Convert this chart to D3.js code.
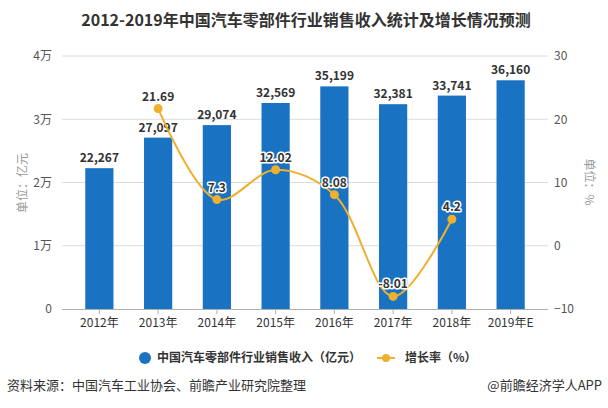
<!DOCTYPE html>
<html>
<head>
<meta charset="utf-8">
<script src="https://cdn.jsdelivr.net/npm/d3@7"></script>
<style>
body { margin: 0; background: #fff; }
text { font-family: "Noto Sans CJK SC", "Noto Sans", sans-serif; }
</style>
</head>
<body>
<svg></svg>
<script>
// data
var years = ['2012年', '2013年', '2014年', '2015年', '2016年', '2017年', '2018年', '2019年E'];
var revenue = [22267, 27097, 29074, 32569, 35199, 32381, 33741, 36160];
var growthYears = ['2013年', '2014年', '2015年', '2016年', '2017年', '2018年'];
var growth = [21.69, 7.3, 12.02, 8.08, -8.01, 4.2];
var leftTicks = [0, 10000, 20000, 30000, 40000];
var leftTickLabels = ['0', '1万', '2万', '3万', '4万'];
var rightTicks = [-10, 0, 10, 20, 30];

var svgWidth = 608, svgHeight = 408;
var blue = '#1a73c2', orange = '#efb02e';

var svg = d3.select('svg')
.attr('width', svgWidth)
.attr('height', svgHeight);

var xScale = d3.scaleBand()
.domain(years)
.range([70, 540])
.paddingInner(0.52)
.paddingOuter(0.26);

var yLeft = d3.scaleLinear()
.domain([0, 40000])
.range([309, 56]);

var yRight = d3.scaleLinear()
.domain([-10, 30])
.range([309, 56]);

// title
svg.append('text')
.attr('x', 306).attr('y', 26)
.attr('text-anchor', 'middle')
.attr('font-size', 16).attr('font-weight', 'bold')
.attr('fill', '#333')
.text('2012-2019年中国汽车零部件行业销售收入统计及增长情况预测');

// gridlines
svg.append('g')
.selectAll('line')
.data(leftTicks.slice(1))
.enter()
.append('line')
.attr('x1', 62).attr('x2', 548)
.attr('y1', function(d){ return yLeft(d); })
.attr('y2', function(d){ return yLeft(d); })
.attr('stroke', '#dcdcdc');

// left axis
var y_axis = d3.axisLeft(yLeft)
.tickValues(leftTicks)
.tickFormat(function(d, i){ return leftTickLabels[i]; })
.tickSize(0)
.tickPadding(10);

var gl = svg.append('g')
.attr('transform', 'translate(62, 0)')
.call(y_axis);
gl.select('.domain').remove();
gl.selectAll('text').attr('font-size', 12).attr('fill', '#555')
.style('font-family', '"Noto Sans CJK SC", sans-serif');

// right axis
var y_axis_r = d3.axisRight(yRight)
.tickValues(rightTicks)
.tickSize(0)
.tickPadding(6);

var gr = svg.append('g')
.attr('transform', 'translate(548, 0)')
.call(y_axis_r);
gr.select('.domain').remove();
gr.selectAll('text').attr('font-size', 12).attr('fill', '#555')
.style('font-family', '"Noto Sans CJK SC", sans-serif');

// axis titles
svg.append('text')
.attr('transform', 'translate(27, 183) rotate(-90)')
.attr('text-anchor', 'middle')
.attr('font-size', 12).attr('fill', '#999')
.text('单位：亿元');

svg.append('text')
.attr('transform', 'translate(585, 182) rotate(90)')
.attr('text-anchor', 'middle')
.attr('font-size', 12).attr('fill', '#999')
.text('单位：%');

// bars
svg.append('g')
.selectAll('rect')
.data(revenue)
.enter()
.append('rect')
.attr('x', function(d, i){ return xScale(years[i]); })
.attr('y', function(d){ return yLeft(d); })
.attr('width', xScale.bandwidth())
.attr('height', function(d){ return yLeft(0) - yLeft(d); })
.attr('fill', blue);

// bar labels
svg.append('g')
.selectAll('text')
.data(revenue)
.enter()
.append('text')
.attr('x', function(d, i){ return xScale(years[i]) + xScale.bandwidth() / 2; })
.attr('y', function(d){ return yLeft(d) - 6; })
.attr('text-anchor', 'middle')
.attr('font-size', 12).attr('font-weight', 'bold')
.attr('fill', '#333')
.text(function(d){ return d3.format(',')(d); });

// x axis
var x_axis = d3.axisBottom(xScale)
.tickSize(5)
.tickPadding(4)
.tickSizeOuter(0);

var gx = svg.append('g')
.attr('transform', 'translate(0, 309)')
.call(x_axis);
gx.select('.domain').attr('d', 'M62,0.5H548').attr('stroke', '#b0b0b0');
gx.selectAll('line').attr('stroke', '#b0b0b0');
gx.selectAll('text').attr('font-size', 12).attr('fill', '#333')
.style('font-family', '"Noto Sans CJK SC", sans-serif');

// growth line
var cx = function(d, i){ return xScale(growthYears[i]) + xScale.bandwidth() / 2; };

var line = d3.line()
.x(cx)
.y(function(d){ return yRight(d); })
.curve(d3.curveCatmullRom.alpha(0.5));

svg.append('path')
.datum(growth)
.attr('d', line)
.attr('fill', 'none')
.attr('stroke', orange)
.attr('stroke-width', 2);

svg.append('g')
.selectAll('circle')
.data(growth)
.enter()
.append('circle')
.attr('cx', cx)
.attr('cy', function(d){ return yRight(d); })
.attr('r', 4.5)
.attr('fill', orange);

svg.append('g')
.selectAll('text')
.data(growth)
.enter()
.append('text')
.attr('x', cx)
.attr('y', function(d){ return yRight(d) - 8; })
.attr('text-anchor', 'middle')
.attr('font-size', 12).attr('font-weight', 'bold')
.attr('fill', '#333')
.attr('stroke', '#fff').attr('stroke-width', 3)
.attr('paint-order', 'stroke')
.attr('stroke-linejoin', 'round')
.text(function(d){ return d; });

// legend
svg.append('circle')
.attr('cx', 145).attr('cy', 358).attr('r', 6)
.attr('fill', blue);
svg.append('text')
.attr('x', 157).attr('y', 362)
.attr('font-size', 12).attr('font-weight', 'bold').attr('fill', '#333')
.text('中国汽车零部件行业销售收入（亿元）');

svg.append('line')
.attr('x1', 377).attr('x2', 395).attr('y1', 358).attr('y2', 358)
.attr('stroke', orange).attr('stroke-width', 2);
svg.append('circle')
.attr('cx', 386).attr('cy', 358).attr('r', 4)
.attr('fill', orange);
svg.append('text')
.attr('x', 405).attr('y', 362)
.attr('font-size', 12).attr('font-weight', 'bold').attr('fill', '#333')
.text('增长率（%）');

// footer
svg.append('text')
.attr('x', 7).attr('y', 390)
.attr('font-size', 13).attr('fill', '#333')
.text('资料来源：中国汽车工业协会、前瞻产业研究院整理');

svg.append('text')
.attr('x', 602).attr('y', 390)
.attr('text-anchor', 'end')
.attr('font-size', 13).attr('fill', '#333')
.text('@前瞻经济学人APP');
</script>
</body>
</html>
